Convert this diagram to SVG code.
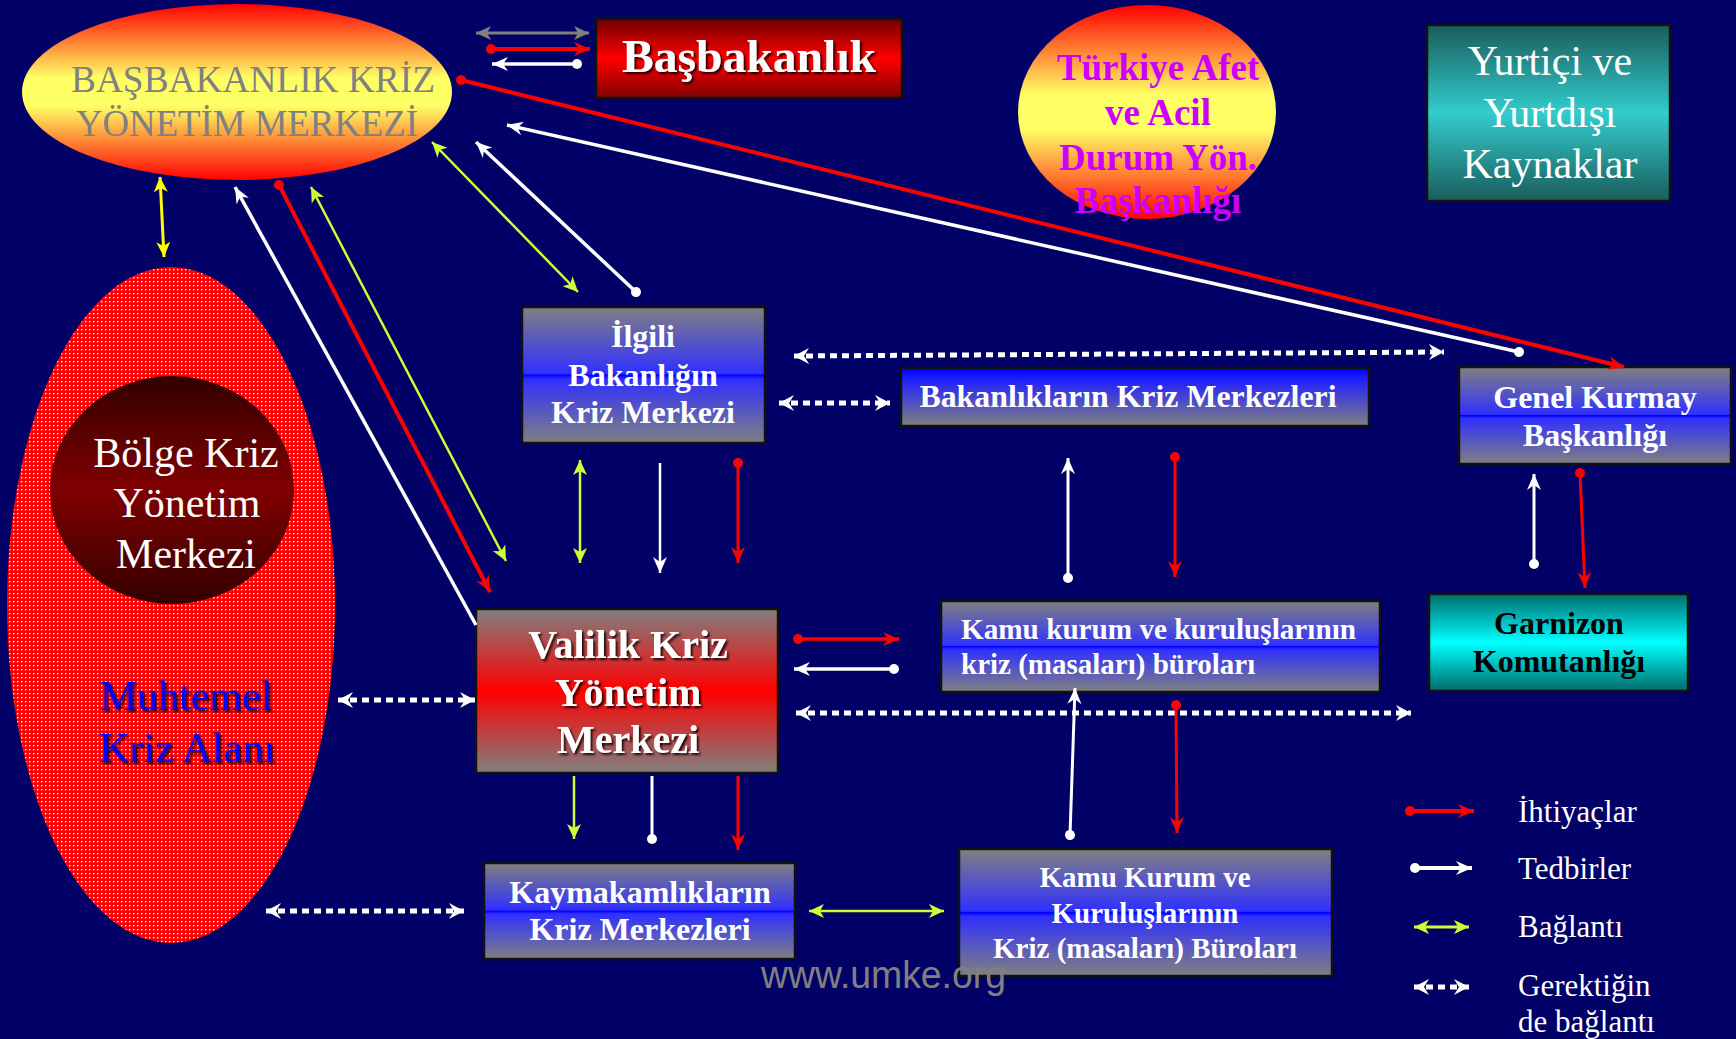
<svg xmlns="http://www.w3.org/2000/svg" width="1736" height="1039" viewBox="0 0 1736 1039">
<defs>
<style>
.serif{font-family:"Liberation Serif","Times New Roman",serif}
.b{font-weight:bold}
.w{fill:#ffffff}
.mid{text-anchor:middle}
.box{stroke:#111111;stroke-width:2.5}
.c{fill:none}
.red{stroke:#ff0000}
.wht{stroke:#ffffff}
.grn{stroke:#ccff33}
.dot{stroke:#ffffff;stroke-width:5;stroke-dasharray:7 5}
</style>
<linearGradient id="gYel" x1="0" y1="0" x2="0" y2="1">
<stop offset="0" stop-color="#ff0000"/><stop offset="0.42" stop-color="#ffff66"/><stop offset="0.58" stop-color="#ffff66"/><stop offset="1" stop-color="#ff0000"/>
</linearGradient>
<linearGradient id="gBas" x1="0" y1="0" x2="0" y2="1">
<stop offset="0" stop-color="#700000"/><stop offset="0.5" stop-color="#ff0000"/><stop offset="1" stop-color="#800000"/>
</linearGradient>
<linearGradient id="gTeal" x1="0" y1="0" x2="0" y2="1">
<stop offset="0" stop-color="#1a5c5c"/><stop offset="0.5" stop-color="#33cccc"/><stop offset="1" stop-color="#1a5c5c"/>
</linearGradient>
<linearGradient id="gBlue" x1="0" y1="0" x2="0" y2="1">
<stop offset="0" stop-color="#808080"/><stop offset="0.49" stop-color="#3030ff"/><stop offset="0.5" stop-color="#0000ff"/><stop offset="0.53" stop-color="#3030ff"/><stop offset="1" stop-color="#808080"/>
</linearGradient>
<linearGradient id="gBlueTop" x1="0" y1="0" x2="0" y2="1">
<stop offset="0" stop-color="#0000ff"/><stop offset="0.2" stop-color="#2020ff"/><stop offset="1" stop-color="#808080"/>
</linearGradient>
<linearGradient id="gRed" x1="0" y1="0" x2="0" y2="1">
<stop offset="0" stop-color="#808080"/><stop offset="0.5" stop-color="#ff0000"/><stop offset="1" stop-color="#808080"/>
</linearGradient>
<linearGradient id="gCyan" x1="0" y1="0" x2="0" y2="1">
<stop offset="0" stop-color="#006b6b"/><stop offset="0.5" stop-color="#00ffff"/><stop offset="1" stop-color="#006b6b"/>
</linearGradient>
<linearGradient id="gMaroon" x1="0" y1="0" x2="0" y2="1">
<stop offset="0" stop-color="#330000"/><stop offset="0.5" stop-color="#800000"/><stop offset="1" stop-color="#330000"/>
</linearGradient>
<pattern id="pDots" patternUnits="userSpaceOnUse" width="4" height="4">
<rect width="4" height="4" fill="#ff0000"/><rect x="1" y="1" width="1.4" height="1.4" fill="#ffffff"/>
</pattern>
<filter id="sh" x="-10%" y="-20%" width="120%" height="140%">
<feDropShadow dx="2" dy="2" stdDeviation="1" flood-color="#000000" flood-opacity="0.85"/>
</filter>
<marker id="aR" markerUnits="userSpaceOnUse" markerWidth="16" markerHeight="16" refX="16" refY="8" orient="auto-start-reverse"><path d="M0,1 L16,8 L0,15 L5,8 Z" fill="#ff0000"/></marker>
<marker id="aW" markerUnits="userSpaceOnUse" markerWidth="16" markerHeight="16" refX="16" refY="8" orient="auto-start-reverse"><path d="M0,1 L16,8 L0,15 L5,8 Z" fill="#ffffff"/></marker>
<marker id="aG" markerUnits="userSpaceOnUse" markerWidth="16" markerHeight="16" refX="15" refY="8" orient="auto-start-reverse"><path d="M0,1 L15,8 L0,15 L4,8 Z" fill="#ccff33"/></marker>
<marker id="aY" markerUnits="userSpaceOnUse" markerWidth="16" markerHeight="16" refX="15" refY="8" orient="auto-start-reverse"><path d="M0,1 L15,8 L0,15 L4,8 Z" fill="#ffff00"/></marker>
<marker id="aGr" markerUnits="userSpaceOnUse" markerWidth="16" markerHeight="16" refX="15" refY="8" orient="auto-start-reverse"><path d="M0,1 L15,8 L0,15 L4,8 Z" fill="#808080"/></marker>
<marker id="aD" markerUnits="userSpaceOnUse" markerWidth="16" markerHeight="18" refX="15" refY="9" orient="auto-start-reverse"><path d="M0,1 L15,9 L0,17 L5,9 Z" fill="#ffffff"/></marker>
<marker id="dR" markerUnits="userSpaceOnUse" markerWidth="12" markerHeight="12" refX="6" refY="6" orient="auto"><circle cx="6" cy="6" r="5" fill="#ff0000"/></marker>
<marker id="dW" markerUnits="userSpaceOnUse" markerWidth="12" markerHeight="12" refX="6" refY="6" orient="auto"><circle cx="6" cy="6" r="5" fill="#ffffff"/></marker>
</defs>
<rect width="1736" height="1039" fill="#000066"/>

<g id="bkym">
<ellipse cx="237" cy="92" rx="215" ry="88" fill="url(#gYel)"/>
<text class="serif mid" x="253" y="92" font-size="37" fill="#808080" textLength="364" lengthAdjust="spacingAndGlyphs">BAŞBAKANLIK KRİZ</text>
<text class="serif mid" x="247" y="136" font-size="37" fill="#808080" textLength="342" lengthAdjust="spacingAndGlyphs">YÖNETİM MERKEZİ</text>
</g>
<g id="basbakanlik">
<rect class="box" x="596" y="19" width="306" height="79" fill="url(#gBas)"/>
<text class="serif b w mid" x="749" y="72" font-size="47" filter="url(#sh)" textLength="254" lengthAdjust="spacingAndGlyphs">Başbakanlık</text>
</g>
<g id="afet">
<ellipse cx="1147" cy="112" rx="129" ry="107" fill="url(#gYel)"/>
<g class="serif b mid" font-size="37" fill="#cc00ff">
<text x="1158" y="80">Türkiye Afet</text>
<text x="1158" y="125">ve Acil</text>
<text x="1158" y="170">Durum Yön.</text>
<text x="1158" y="213">Başkanlığı</text>
</g>
</g>
<g id="kaynaklar">
<rect class="box" x="1427" y="25" width="243" height="176" fill="url(#gTeal)"/>
<g class="serif w mid" font-size="42">
<text x="1550" y="75">Yurtiçi ve</text>
<text x="1550" y="127">Yurtdışı</text>
<text x="1550" y="178">Kaynaklar</text>
</g>
</g>
<g id="kriz-alani">
<ellipse cx="171" cy="605" rx="164" ry="338" fill="url(#pDots)"/>
<g class="serif mid" font-size="42" fill="#0000ff" filter="url(#sh)">
<text x="186" y="710">Muhtemel</text>
<text x="187" y="762">Kriz Alanı</text>
</g>
</g>
<g id="bolge">
<ellipse cx="172" cy="490" rx="122" ry="114" fill="url(#gMaroon)"/>
<g class="serif w mid" font-size="42">
<text x="186" y="467">Bölge Kriz</text>
<text x="187" y="517">Yönetim</text>
<text x="186" y="568">Merkezi</text>
</g>
</g>
<g id="ilgili">
<rect class="box" x="522" y="307" width="243" height="136" fill="url(#gBlue)"/>
<g class="serif b w mid" font-size="32">
<text x="643" y="347">İlgili</text>
<text x="643" y="386">Bakanlığın</text>
<text x="643" y="423">Kriz Merkezi</text>
</g>
</g>
<g id="bakanliklar">
<rect class="box" x="901" y="368" width="468" height="58" fill="url(#gBlueTop)"/>
<text class="serif b w mid" x="1128" y="407" font-size="32" textLength="417" lengthAdjust="spacingAndGlyphs">Bakanlıkların Kriz Merkezleri</text>
</g>
<g id="genelkurmay">
<rect class="box" x="1459" y="367" width="272" height="97" fill="url(#gBlue)"/>
<g class="serif b w mid" font-size="32">
<text x="1595" y="408">Genel Kurmay</text>
<text x="1595" y="446">Başkanlığı</text>
</g>
</g>
<g id="valilik">
<rect class="box" x="476" y="609" width="302" height="164" fill="url(#gRed)"/>
<g class="serif b w mid" font-size="40" filter="url(#sh)">
<text x="628" y="658">Valilik Kriz</text>
<text x="628" y="706">Yönetim</text>
<text x="628" y="753">Merkezi</text>
</g>
</g>
<g id="kamu-kurum">
<rect class="box" x="941" y="601" width="439" height="91" fill="url(#gBlue)"/>
<g class="serif b w" font-size="29">
<text x="961" y="639" textLength="395" lengthAdjust="spacingAndGlyphs">Kamu kurum ve kuruluşlarının</text>
<text x="961" y="674">kriz (masaları) büroları</text>
</g>
</g>
<g id="garnizon">
<rect class="box" x="1429" y="594" width="259" height="97" fill="url(#gCyan)"/>
<g class="serif b mid" font-size="32" fill="#000000">
<text x="1559" y="634">Garnizon</text>
<text x="1559" y="672">Komutanlığı</text>
</g>
</g>
<g id="kaymakamlik">
<rect class="box" x="484" y="863" width="311" height="96" fill="url(#gBlue)"/>
<g class="serif b w mid" font-size="32">
<text x="640" y="903">Kaymakamlıkların</text>
<text x="640" y="940">Kriz Merkezleri</text>
</g>
</g>
<g id="kamu-buro">
<rect class="box" x="959" y="849" width="373" height="127" fill="url(#gBlue)"/>
<g class="serif b w mid" font-size="29">
<text x="1145" y="887">Kamu Kurum ve</text>
<text x="1145" y="923">Kuruluşlarının</text>
<text x="1145" y="958">Kriz (masaları) Büroları</text>
</g>
</g>

<g id="connectors">
<path class="c" d="M476,33 H589" stroke="#808080" stroke-width="3" marker-start="url(#aGr)" marker-end="url(#aGr)"/>
<path class="c red" d="M491,49 H590" stroke-width="4" marker-start="url(#dR)" marker-end="url(#aR)"/>
<path class="c wht" d="M577,64 H492" stroke-width="3.5" marker-start="url(#dW)" marker-end="url(#aW)"/>
<path class="c red" d="M461,80 L1624,367" stroke-width="4" marker-start="url(#dR)" marker-end="url(#aR)"/>
<path class="c wht" d="M1519,352 L507,125" stroke-width="3.5" marker-start="url(#dW)" marker-end="url(#aW)"/>
<path class="c grn" d="M432,142 L578,292" stroke-width="2.5" marker-start="url(#aG)" marker-end="url(#aG)"/>
<path class="c wht" d="M636,292 L476,142" stroke-width="3.5" marker-start="url(#dW)" marker-end="url(#aW)"/>
<path class="c" d="M160,177 L164,257" stroke="#ffff00" stroke-width="3" marker-start="url(#aY)" marker-end="url(#aY)"/>
<path class="c wht" d="M476,625 L235,187" stroke-width="3.5" marker-end="url(#aW)"/>
<path class="c red" d="M279,185 L490,592" stroke-width="4" marker-start="url(#dR)" marker-end="url(#aR)"/>
<path class="c grn" d="M311,187 L506,561" stroke-width="2.5" marker-start="url(#aG)" marker-end="url(#aG)"/>
<path class="c dot" d="M338,700 H475" marker-start="url(#aD)" marker-end="url(#aD)"/>
<path class="c dot" d="M794,356 L1444,352" marker-start="url(#aD)" marker-end="url(#aD)"/>
<path class="c dot" d="M779,403 H890" marker-start="url(#aD)" marker-end="url(#aD)"/>
<path class="c grn" d="M580,460 V563" stroke-width="2.5" marker-start="url(#aG)" marker-end="url(#aG)"/>
<path class="c wht" d="M660,463 V573" stroke-width="2.5" marker-end="url(#aW)"/>
<path class="c red" d="M738,463 V563" stroke-width="3" marker-start="url(#dR)" marker-end="url(#aR)"/>
<path class="c red" d="M798,639 H899" stroke-width="3.5" marker-start="url(#dR)" marker-end="url(#aR)"/>
<path class="c wht" d="M894,669 H794" stroke-width="3.5" marker-start="url(#dW)" marker-end="url(#aW)"/>
<path class="c dot" d="M796,713 H1411" marker-start="url(#aD)" marker-end="url(#aD)"/>
<path class="c wht" d="M1068,578 V458" stroke-width="3" marker-start="url(#dW)" marker-end="url(#aW)"/>
<path class="c red" d="M1175,457 V577" stroke-width="3" marker-start="url(#dR)" marker-end="url(#aR)"/>
<path class="c wht" d="M1534,564 V474" stroke-width="3" marker-start="url(#dW)" marker-end="url(#aW)"/>
<path class="c red" d="M1580,473 L1585,588" stroke-width="3" marker-start="url(#dR)" marker-end="url(#aR)"/>
<path class="c wht" d="M1070,835 L1075,688" stroke-width="3" marker-start="url(#dW)" marker-end="url(#aW)"/>
<path class="c red" d="M1176,705 L1177,833" stroke-width="3" marker-start="url(#dR)" marker-end="url(#aR)"/>
<path class="c grn" d="M574,776 V839" stroke-width="2.5" marker-end="url(#aG)"/>
<path class="c wht" d="M652,776 V839" stroke-width="3" marker-end="url(#dW)"/>
<path class="c red" d="M738,776 V850" stroke-width="3" marker-end="url(#aR)"/>
<path class="c dot" d="M266,911 H464" marker-start="url(#aD)" marker-end="url(#aD)"/>
<path class="c grn" d="M809,911 H944" stroke-width="2.5" marker-start="url(#aG)" marker-end="url(#aG)"/>
</g>

<g id="legend">
<path class="c red" d="M1410,811 H1474" stroke-width="4" marker-start="url(#dR)" marker-end="url(#aR)"/>
<path class="c wht" d="M1415,868 H1472" stroke-width="4" marker-start="url(#dW)" marker-end="url(#aW)"/>
<path class="c grn" d="M1414,927 H1469" stroke-width="3" marker-start="url(#aG)" marker-end="url(#aG)"/>
<path class="c dot" d="M1414,987 H1469" marker-start="url(#aD)" marker-end="url(#aD)"/>
<g class="serif w" font-size="31">
<text x="1518" y="822">İhtiyaçlar</text>
<text x="1518" y="879">Tedbirler</text>
<text x="1518" y="937">Bağlantı</text>
<text x="1518" y="996">Gerektiğin</text>
<text x="1518" y="1032">de bağlantı</text>
</g>
</g>
<text x="761" y="988" font-family="'Liberation Sans', Arial, sans-serif" font-size="38" fill="#808080" textLength="245" lengthAdjust="spacingAndGlyphs">www.umke.org</text>
</svg>
